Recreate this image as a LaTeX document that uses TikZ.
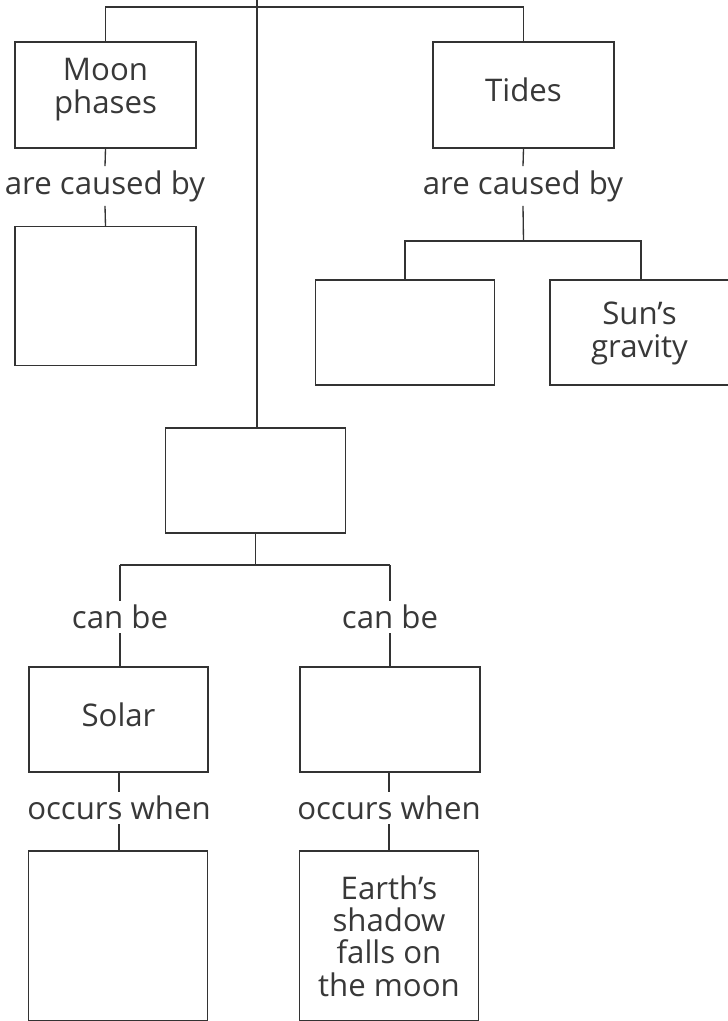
\documentclass[tikz,border=0pt]{standalone}
\usepackage{fontspec}
\setmainfont{Open Sans}
\begin{document}
\begin{tikzpicture}[x=0.75pt,y=-0.75pt,
  every node/.style={font=\fontsize{23.4}{24.75}\selectfont, text=black!78},
  conc/.style={draw=black!80, line width=1pt, inner sep=0pt, align=center},
  txt/.style={inner sep=0pt, align=center},
  lbl/.style={inner sep=3pt, align=center},
  link/.style={draw=black!80, line width=1pt}]
\useasboundingbox (0,0) rectangle (728,1021);
% boxes (centre, width, height in px)
\node[conc, minimum width=135.75pt, minimum height=79.5pt] (moon) at (105.5,95) {};
\node[txt] (moont) at (105.5,90) {Moon\\phases};
\node[conc, minimum width=135.75pt, minimum height=104pt] (mcause) at (105.5,296) {};
\node[conc, minimum width=135.75pt, minimum height=79.5pt] (tides) at (523.5,95) {};
\node[txt] (tidest) at (523.5,90) {Tides};
\node[conc, minimum width=134.25pt, minimum height=78.75pt] (tcause) at (405,332.5) {};
\node[conc, minimum width=134.25pt, minimum height=78.75pt] (sun) at (639.5,332.5) {};
\node[txt] (sunt) at (639.5,333) {Sun's\\gravity};
\node[conc, minimum width=135pt, minimum height=78.75pt] (eclipse) at (255.5,480.5) {};
\node[conc, minimum width=134.25pt, minimum height=78.75pt] (solar) at (118.5,719.5) {};
\node[txt] (solart) at (118.5,715) {Solar};
\node[conc, minimum width=135pt, minimum height=78.75pt] (lunar) at (390,719.5) {};
\node[conc, minimum width=134.25pt, minimum height=127.5pt] (swhen) at (118,936) {};
\node[conc, minimum width=134.25pt, minimum height=127.5pt] (lwhen) at (389,936) {};
\node[txt, font=\fontsize{23.4}{24.2}\selectfont] (lwhent) at (389,936) {Earth's\\shadow\\falls on\\the moon};
% labels
\node[lbl] (l1) at (105,186) {are caused by};
\node[lbl] (l2) at (523,186) {are caused by};
\node[lbl] (l3) at (120,617) {can be};
\node[lbl] (l4) at (390,617) {can be};
\node[lbl] (l5) at (119,808) {occurs when};
\node[lbl] (l6) at (389,808) {occurs when};
% junction coordinates
\coordinate (top) at (257,0);
\coordinate (tl) at (105.5,7);
\coordinate (tr) at (523.5,7);
\coordinate (bj) at (523.5,241);
\coordinate (bl) at (405,241);
\coordinate (br) at (641,241);
\coordinate (ej) at (255.5,565);
\coordinate (el) at (120,565);
\coordinate (er) at (390,565);
% connectors
\draw[link] (top) -- (eclipse.north -| top);
\draw[link] (moon.north) -- (tl) -- (tr) -- (tides.north);
\draw[link] (moon.south) -- (l1.north);
\draw[link] (l1.south) -- (mcause.north);
\draw[link] (tides.south) -- (l2.north);
\draw[link] (l2.south) -- (bj);
\draw[link] (tcause.north) -- (bl) -- (br) -- (sun.north -| br);
\draw[link] (eclipse.south) -- (ej);
\draw[link] (el) -- (er);
\draw[link] (el) -- (l3.north);
\draw[link] (er) -- (l4.north);
\draw[link] (l3.south) -- (solar.north -| l3.south);
\draw[link] (l4.south) -- (lunar.north);
\draw[link] (solar.south -| l5.north) -- (l5.north);
\draw[link] (l5.south) -- (swhen.north -| l5.south);
\draw[link] (lunar.south -| l6.north) -- (l6.north);
\draw[link] (l6.south) -- (lwhen.north -| l6.south);
\end{tikzpicture}
\end{document}
